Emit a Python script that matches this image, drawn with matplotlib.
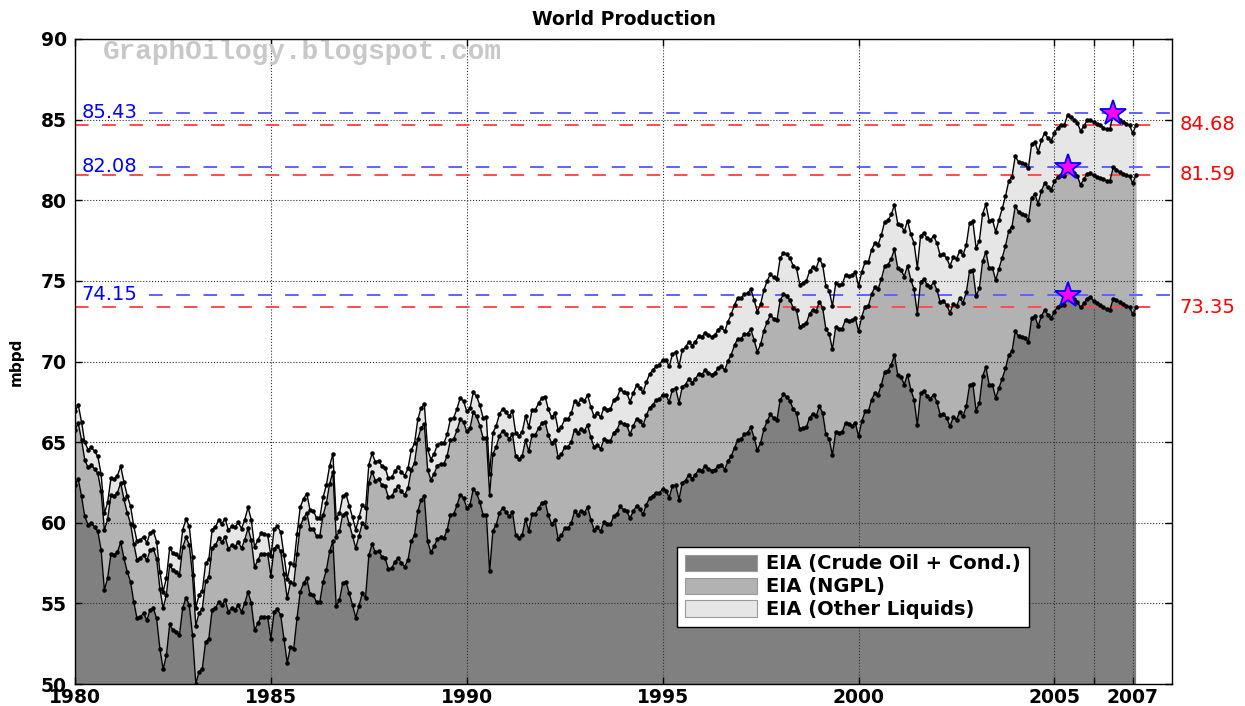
import numpy as np
import matplotlib
matplotlib.use("Agg")
import matplotlib.pyplot as plt
from matplotlib.patches import Patch
from matplotlib.transforms import blended_transform_factory

# Monthly world liquids production (mbpd), January 1980 onwards
start_year = 1980

crude = [
    62.37, 62.72, 61.64, 60.39, 59.88, 59.98, 59.73, 59.46, 58.32, 55.83, 56.56, 58.05,  # 1980
    58.01, 58.17, 58.80, 57.80, 56.97, 56.35, 55.10, 54.07, 54.17, 54.38, 53.96, 54.59,  # 1981
    54.69, 54.07, 52.20, 50.91, 51.78, 53.69, 53.34, 53.24, 53.03, 54.73, 55.35, 54.90,  # 1982
    53.03, 50.02, 50.75, 50.95, 52.61, 52.82, 54.59, 54.69, 55.10, 54.90, 55.21, 54.48,  # 1983
    54.69, 54.59, 54.90, 54.48, 55.00, 55.73, 55.00, 53.34, 53.76, 54.17, 54.17, 54.17,  # 1984
    52.82, 54.48, 54.63, 54.27, 52.82, 51.31, 52.30, 52.20, 54.07, 55.73, 56.24, 56.56,  # 1985
    55.56, 55.52, 55.06, 55.10, 56.35, 57.07, 58.22, 58.88, 54.85, 55.21, 56.24, 56.35,  # 1986
    55.62, 54.90, 54.11, 54.85, 55.62, 55.35, 57.97, 58.67, 58.17, 58.26, 57.90, 57.80,  # 1987
    57.12, 57.18, 57.59, 57.80, 57.49, 57.28, 57.70, 58.84, 59.25, 60.71, 61.43, 61.64,  # 1988
    58.84, 58.17, 58.53, 59.00, 59.09, 59.05, 59.56, 60.50, 60.54, 61.08, 61.74, 61.55,  # 1989
    60.91, 61.12, 62.11, 61.84, 61.28, 60.50, 60.50, 56.98, 59.50, 59.88, 60.60, 60.91,  # 1990
    60.66, 60.39, 60.64, 59.26, 59.05, 59.26, 60.23, 59.50, 60.54, 60.54, 60.91, 61.22,  # 1991
    61.28, 60.45, 59.92, 60.14, 59.01, 59.21, 59.67, 59.67, 59.98, 60.70, 60.50, 60.74,  # 1992
    60.60, 60.97, 60.19, 59.57, 59.71, 59.46, 60.04, 59.92, 59.92, 60.39, 60.54, 61.01,  # 1993
    60.81, 60.70, 60.29, 60.70, 61.05, 60.85, 60.54, 61.12, 61.53, 61.67, 61.85, 61.85,  # 1994
    62.10, 62.00, 61.54, 62.31, 62.33, 61.44, 62.48, 62.62, 62.99, 62.74, 62.95, 63.30,  # 1995
    63.24, 63.51, 63.36, 63.24, 63.28, 63.55, 63.61, 63.30, 63.82, 64.13, 64.65, 65.12,  # 1996
    65.17, 65.48, 65.58, 65.93, 65.27, 64.50, 64.96, 65.79, 66.30, 66.72, 66.51, 66.37,  # 1997
    67.61, 67.96, 67.82, 67.55, 67.03, 66.82, 65.79, 65.85, 65.93, 66.51, 66.76, 66.61,  # 1998
    67.22, 66.82, 65.48, 65.17, 64.19, 65.64, 65.58, 65.62, 66.20, 66.10, 66.00, 66.20,  # 1999
    65.36, 66.29, 66.91, 66.91, 67.64, 68.05, 67.95, 68.57, 69.36, 69.44, 69.81, 70.39,  # 2000
    69.19, 69.03, 68.57, 69.19, 68.26, 67.64, 66.05, 68.05, 68.20, 67.85, 67.70, 67.95,  # 2001
    67.49, 66.71, 66.75, 66.50, 65.98, 66.54, 66.40, 66.87, 66.60, 67.23, 68.53, 68.61,  # 2002
    66.96, 67.43, 69.09, 69.65, 68.57, 68.57, 67.74, 68.36, 68.94, 69.57, 70.39, 70.64,  # 2003
    71.88, 71.57, 71.51, 71.47, 71.22, 72.67, 72.82, 72.19, 72.82, 73.20, 72.90, 72.70,  # 2004
    73.10, 73.40, 73.50, 73.50, 74.15, 74.00, 73.85, 73.70, 73.35, 73.60, 73.90, 74.00,  # 2005
    73.75, 73.60, 73.50, 73.35, 73.25, 73.20, 73.90, 73.80, 73.70, 73.55, 73.45, 73.35,  # 2006
    72.95, 73.35,                                                                        # 2007
]

ngpl = [
    3.40, 3.45, 3.50, 3.50, 3.55, 3.60, 3.60, 3.60, 3.65, 3.70, 3.65, 3.65,  # 1980
    3.65, 3.70, 3.67, 3.65, 3.65, 3.60, 3.60, 3.63, 3.65, 3.65, 3.70, 3.70,  # 1981
    3.70, 3.70, 3.72, 3.78, 3.75, 3.70, 3.70, 3.70, 3.72, 3.75, 3.75, 3.75,  # 1982
    3.70, 3.60, 3.65, 3.70, 3.75, 3.80, 3.85, 3.90, 3.94, 3.90, 3.90, 3.90,  # 1983
    3.90, 3.92, 3.92, 3.94, 3.94, 3.94, 3.90, 3.90, 3.92, 3.92, 3.90, 3.90,  # 1984
    3.90, 3.92, 3.95, 3.95, 4.00, 4.00, 4.00, 4.00, 4.02, 4.05, 4.05, 4.05,  # 1985
    4.05, 4.08, 4.10, 4.10, 4.12, 4.15, 4.20, 4.27, 4.29, 4.25, 4.25, 4.28,  # 1986
    4.30, 4.30, 4.32, 4.35, 4.35, 4.40, 4.50, 4.50, 4.45, 4.45, 4.45, 4.45,  # 1987
    4.45, 4.45, 4.45, 4.45, 4.45, 4.45, 4.45, 4.45, 4.46, 4.46, 4.46, 4.46,  # 1988
    4.46, 4.50, 4.50, 4.55, 4.55, 4.60, 4.60, 4.62, 4.65, 4.65, 4.67, 4.70,  # 1989
    4.75, 4.75, 4.75, 4.75, 4.75, 4.75, 4.75, 4.75, 4.78, 4.80, 4.80, 4.80,  # 1990
    4.82, 4.82, 4.85, 4.85, 4.88, 4.90, 4.90, 4.92, 4.92, 4.92, 4.95, 4.95,  # 1991
    4.95, 4.98, 5.00, 5.00, 5.04, 5.04, 5.04, 5.05, 5.05, 5.08, 5.08, 5.10,  # 1992
    5.10, 5.10, 5.10, 5.12, 5.12, 5.12, 5.15, 5.15, 5.15, 5.20, 5.20, 5.25,  # 1993
    5.30, 5.35, 5.20, 5.30, 5.40, 5.45, 5.50, 5.55, 5.60, 5.65, 5.75, 5.80,  # 1994
    5.85, 5.90, 5.95, 5.95, 6.00, 6.00, 5.95, 5.95, 5.95, 5.95, 5.95, 5.95,  # 1995
    5.95, 5.94, 5.95, 5.95, 6.00, 6.05, 6.10, 6.15, 6.20, 6.30, 6.35, 6.30,  # 1996
    6.25, 6.20, 6.15, 6.07, 6.07, 6.10, 6.10, 6.12, 6.15, 6.15, 6.15, 6.18,  # 1997
    6.20, 6.20, 6.22, 6.25, 6.30, 6.35, 6.35, 6.40, 6.45, 6.45, 6.45, 6.50,  # 1998
    6.50, 6.50, 6.52, 6.55, 6.56, 6.50, 6.45, 6.42, 6.40, 6.40, 6.55, 6.50,  # 1999
    6.52, 6.50, 6.50, 6.52, 6.55, 6.55, 6.55, 6.55, 6.56, 6.56, 6.56, 6.56,  # 2000
    6.60, 6.65, 6.70, 6.75, 6.80, 6.85, 6.90, 6.90, 6.90, 6.92, 6.95, 6.95,  # 2001
    6.95, 6.98, 7.00, 7.00, 7.04, 7.04, 7.05, 7.05, 7.05, 7.06, 7.08, 7.08,  # 2002
    7.10, 7.10, 7.12, 7.16, 7.20, 7.25, 7.30, 7.40, 7.50, 7.60, 7.70, 7.72,  # 2003
    7.76, 7.70, 7.65, 7.60, 7.55, 7.50, 7.55, 7.60, 7.75, 7.87, 7.90, 7.95,  # 2004
    8.07, 8.05, 8.05, 8.00, 7.93, 7.90, 7.85, 7.80, 7.60, 7.70, 7.75, 7.67,  # 2005
    7.80, 7.85, 7.90, 7.95, 7.95, 8.00, 8.14, 8.10, 8.05, 8.10, 8.10, 8.15,  # 2006
    8.10, 8.24,                                                              # 2007
]

other = [
    1.14, 1.15, 1.10, 1.10, 1.10, 1.10, 1.10, 1.05, 1.05, 1.05, 1.05, 1.05,  # 1980
    1.05, 1.05, 1.04, 1.05, 1.05, 1.08, 1.10, 1.14, 1.12, 1.10, 1.10, 1.08,  # 1981
    1.08, 1.06, 1.05, 1.04, 1.05, 1.06, 1.08, 1.10, 1.10, 1.10, 1.12, 1.12,  # 1982
    1.12, 1.12, 1.12, 1.12, 1.12, 1.12, 1.14, 1.14, 1.14, 1.15, 1.15, 1.15,  # 1983
    1.18, 1.20, 1.20, 1.22, 1.25, 1.29, 1.28, 1.25, 1.25, 1.25, 1.22, 1.20,  # 1984
    1.20, 1.20, 1.20, 1.20, 1.18, 1.18, 1.18, 1.18, 1.20, 1.20, 1.20, 1.20,  # 1985
    1.15, 1.15, 1.12, 1.12, 1.12, 1.12, 1.12, 1.12, 1.14, 1.14, 1.14, 1.14,  # 1986
    1.14, 1.14, 1.14, 1.14, 1.14, 1.14, 1.14, 1.14, 1.15, 1.15, 1.16, 1.16,  # 1987
    1.18, 1.18, 1.18, 1.20, 1.20, 1.20, 1.22, 1.22, 1.22, 1.24, 1.24, 1.24,  # 1988
    1.25, 1.25, 1.26, 1.28, 1.30, 1.30, 1.32, 1.32, 1.33, 1.34, 1.35, 1.30,  # 1989
    1.24, 1.24, 1.25, 1.25, 1.26, 1.26, 1.28, 1.28, 1.30, 1.32, 1.34, 1.36,  # 1990
    1.38, 1.40, 1.42, 1.44, 1.46, 1.48, 1.50, 1.50, 1.55, 1.55, 1.55, 1.57,  # 1991
    1.58, 1.60, 1.62, 1.64, 1.71, 1.71, 1.70, 1.72, 1.75, 1.78, 1.80, 1.82,  # 1992
    1.84, 1.86, 1.88, 1.90, 1.96, 1.96, 1.95, 1.95, 1.98, 2.00, 2.00, 2.02,  # 1993
    2.00, 2.00, 2.02, 2.05, 2.07, 2.07, 2.05, 2.05, 2.10, 2.15, 2.10, 2.15,  # 1994
    2.15, 2.20, 2.20, 2.20, 2.25, 2.25, 2.28, 2.30, 2.30, 2.30, 2.32, 2.32,  # 1995
    2.33, 2.34, 2.34, 2.35, 2.35, 2.38, 2.40, 2.42, 2.45, 2.50, 2.52, 2.52,  # 1996
    2.50, 2.50, 2.50, 2.48, 2.48, 2.50, 2.50, 2.52, 2.55, 2.55, 2.55, 2.56,  # 1997
    2.58, 2.59, 2.60, 2.60, 2.60, 2.60, 2.62, 2.62, 2.62, 2.64, 2.65, 2.65,  # 1998
    2.66, 2.66, 2.68, 2.68, 2.69, 2.70, 2.72, 2.75, 2.78, 2.80, 2.80, 2.85,  # 1999
    2.80, 2.78, 2.76, 2.75, 2.75, 2.75, 2.75, 2.75, 2.75, 2.75, 2.75, 2.75,  # 2000
    2.76, 2.78, 2.80, 2.80, 2.82, 2.85, 2.86, 2.86, 2.86, 2.88, 2.88, 2.88,  # 2001
    2.90, 2.90, 2.90, 2.90, 2.90, 2.90, 2.92, 2.94, 2.95, 2.96, 3.00, 3.00,  # 2002
    2.98, 2.96, 2.95, 2.94, 2.95, 2.98, 3.00, 3.02, 3.05, 3.08, 3.10, 3.10,  # 2003
    3.10, 3.10, 3.12, 3.15, 3.20, 3.30, 3.25, 3.20, 3.15, 3.10, 3.05, 3.05,  # 2004
    3.00, 3.05, 3.10, 3.15, 3.20, 3.25, 3.30, 3.30, 3.35, 3.30, 3.30, 3.30,  # 2005
    3.30, 3.30, 3.25, 3.20, 3.20, 3.20, 3.39, 3.30, 3.25, 3.20, 3.20, 3.15,  # 2006
    3.10, 3.09,                                                              # 2007
]

series_labels = ["EIA (Crude Oil + Cond.)", "EIA (NGPL)", "EIA (Other Liquids)"]
fill_colors = ["#808080", "#b2b2b2", "#e6e6e6"]

x_ticks = [1980, 1985, 1990, 1995, 2000, 2005, 2006, 2007]
x_tick_labels = ["1980", "1985", "1990", "1995", "2000", "2005", "", "2007"]
y_ticks = [50, 55, 60, 65, 70, 75, 80, 85, 90]

# stacked levels
crude_a = np.array(crude)
lvl1 = crude_a
lvl2 = lvl1 + np.array(ngpl)
lvl3 = lvl2 + np.array(other)
t = start_year + np.arange(len(crude_a)) / 12.0

W, H = 1245, 706
fig = plt.figure(figsize=(W / 100, H / 100), dpi=100)
ax = fig.add_axes([75 / W, 1 - 684 / H, 1097 / W, 645 / H])

ax.fill_between(t, 0, lvl1, color=fill_colors[0], lw=0, zorder=1)
ax.fill_between(t, lvl1, lvl2, color=fill_colors[1], lw=0, zorder=1)
ax.fill_between(t, lvl2, lvl3, color=fill_colors[2], lw=0, zorder=1)

for lev in (lvl1, lvl2, lvl3):
    ax.plot(t, lev, color="black", lw=1.0, marker=".", ms=4.5, zorder=4)

ax.set_xlim(1980, 2008)
ax.set_ylim(50, 90)

# peak (blue) and latest (red) reference levels
trans = blended_transform_factory(ax.transAxes, ax.transData)
blue = (0.38, 0.38, 1.0)
red = (1.0, 0.3, 0.3)
for lev in (lvl1, lvl2, lvl3):
    ip = int(np.argmax(lev))
    peak = lev[ip]
    last = lev[-1]
    ax.plot([1980, 2007.6], [last, last], color=red, lw=1.4,
            dashes=(7, 7), zorder=3)
    ax.plot([1981.9, 2008], [peak, peak], color=blue, lw=1.4,
            dashes=(7, 7), zorder=3)
    ax.text(0.006, peak, f"{peak:.2f}", transform=trans, color="blue",
            fontsize=14, va="center", ha="left", zorder=6)
    ax.text(1.007, last, f"{last:.2f}", transform=trans, color="red",
            fontsize=14, va="center", ha="left", clip_on=False)
    ax.plot(t[ip], peak, marker="*", ms=19, mfc="magenta", mec="blue",
            mew=1.3, zorder=6)

ax.set_xticks(x_ticks)
ax.set_xticklabels(x_tick_labels)
ax.set_yticks(y_ticks)
ax.tick_params(direction="in", top=True, right=True, length=5, width=1,
               labelsize=13.5)
ax.tick_params(axis="x", pad=3)
ax.tick_params(axis="y", pad=6)
for lab in ax.get_xticklabels() + ax.get_yticklabels():
    lab.set_fontweight("bold")

ax.grid(True, linestyle=":", color="#303030", lw=0.8)
ax.set_axisbelow(False)
for sp in ax.spines.values():
    sp.set_linewidth(1.0)
    sp.set_zorder(7)

ax.set_title("World Production", fontsize=13.5, fontweight="bold", pad=10)
ax.set_ylabel("mbpd", fontsize=11, fontweight="bold", labelpad=12)

ax.text(0.025, 0.98, "GraphOilogy.blogspot.com", transform=ax.transAxes,
        fontsize=20, fontweight="bold", family="Liberation Mono",
        color="#c8c8c8", va="center", ha="left", zorder=6)

handles = [Patch(facecolor=c, edgecolor="#9a9a9a", lw=0.8) for c in fill_colors]
leg = ax.legend(handles, series_labels, loc="lower left",
                bbox_to_anchor=(0.5488, 0.0884), borderaxespad=0,
                fancybox=False, framealpha=1,
                edgecolor="black", handlelength=3.7, handleheight=0.9,
                borderpad=0.4, labelspacing=0.2, handletextpad=0.5,
                prop={"weight": "bold", "size": 14})
leg.get_frame().set_linewidth(1.0)
leg.set_zorder(8)

fig.savefig("out.png", dpi=100)
